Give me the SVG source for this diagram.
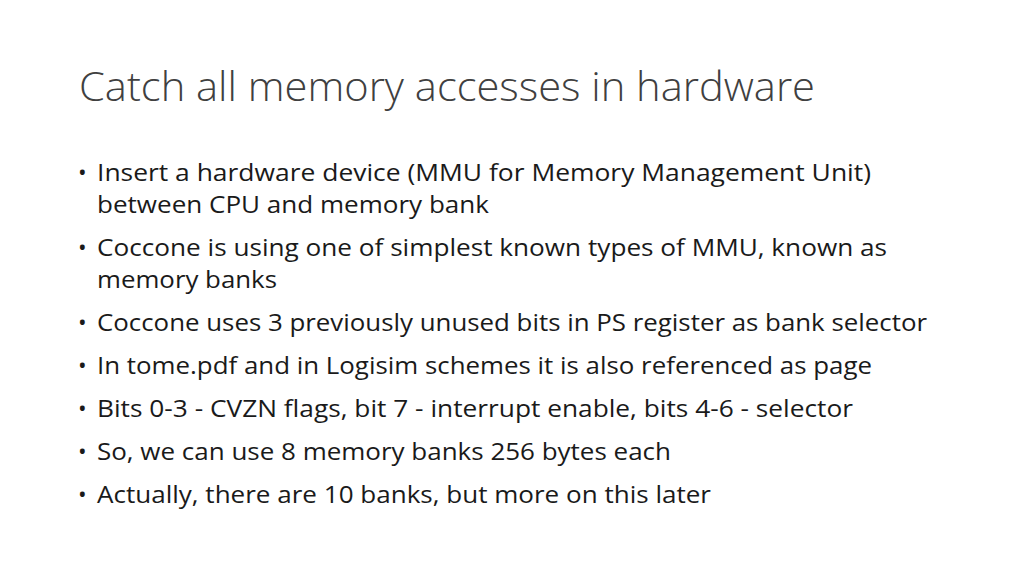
<svg xmlns="http://www.w3.org/2000/svg" width="1024" height="576" viewBox="0 0 1024 576">
<style>
.t{font-family:"Open Sans","Liberation Sans",sans-serif;font-size:40px;font-weight:300;fill:#404040}
.b{font-family:"Open Sans","Liberation Sans",sans-serif;font-size:23px;fill:#1a1a1a}
</style>
<rect width="1024" height="576" fill="#fff"/>
<g id="title"><text class="t" x="79" y="101" textLength="736" lengthAdjust="spacingAndGlyphs">Catch all memory accesses in hardware</text></g>
<g id="bullets">
<text class="b" x="78" y="181">•</text>
<text class="b" x="97" y="181" textLength="774" lengthAdjust="spacingAndGlyphs">Insert a hardware device (MMU for Memory Management Unit)</text>
<text class="b" x="97" y="213" textLength="392" lengthAdjust="spacingAndGlyphs">between CPU and memory bank</text>
<text class="b" x="78" y="256">•</text>
<text class="b" x="97" y="256" textLength="790" lengthAdjust="spacingAndGlyphs">Coccone is using one of simplest known types of MMU, known as</text>
<text class="b" x="97" y="288" textLength="180" lengthAdjust="spacingAndGlyphs">memory banks</text>
<text class="b" x="78" y="331">•</text>
<text class="b" x="97" y="331" textLength="830" lengthAdjust="spacingAndGlyphs">Coccone uses 3 previously unused bits in PS register as bank selector</text>
<text class="b" x="78" y="374">•</text>
<text class="b" x="97" y="374" textLength="775" lengthAdjust="spacingAndGlyphs">In tome.pdf and in Logisim schemes it is also referenced as page</text>
<text class="b" x="78" y="417">•</text>
<text class="b" x="97" y="417" textLength="756" lengthAdjust="spacingAndGlyphs">Bits 0-3 - CVZN flags, bit 7 - interrupt enable, bits 4-6 - selector</text>
<text class="b" x="78" y="460">•</text>
<text class="b" x="97" y="460" textLength="574" lengthAdjust="spacingAndGlyphs">So, we can use 8 memory banks 256 bytes each</text>
<text class="b" x="78" y="503">•</text>
<text class="b" x="97" y="503" textLength="614" lengthAdjust="spacingAndGlyphs">Actually, there are 10 banks, but more on this later</text>
</g>
</svg>
